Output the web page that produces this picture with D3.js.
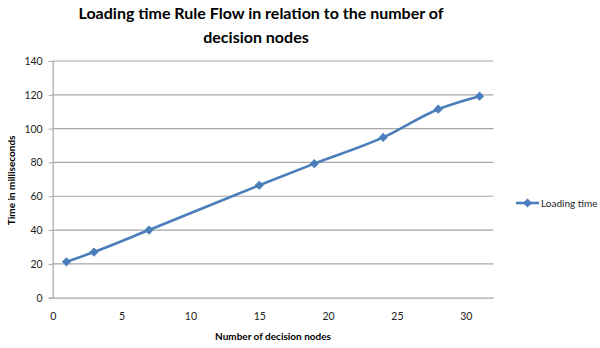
<!DOCTYPE html>
<html><head><meta charset="utf-8">
<script src="https://cdn.jsdelivr.net/npm/d3@7"></script>
<style>body{margin:0;background:#fff}svg{display:block}</style>
</head><body>
<svg id="c" width="600" height="348"></svg>
<script>
const titleLines = ["Loading time Rule Flow in relation to the number of", "decision nodes"];
const seriesName = "Loading time";
const xValues = [1, 3, 7, 15, 19, 24, 28, 31];
const yValues = [21.2, 27, 40, 66.5, 79.3, 94.8, 111.5, 119.2];
const xTicks = [0, 5, 10, 15, 20, 25, 30];
const yTicks = [0, 20, 40, 60, 80, 100, 120, 140];
const xTitle = "Number of decision nodes";
const yTitle = "Time in milliseconds";

const svg = d3.select("#c");
const L = 52.7, R = 493.3, T = 61, B = 297.7;
const x = d3.scaleLinear().domain([0, 32]).range([L, R]);
const y = d3.scaleLinear().domain([0, 140]).range([B, T]);
const font = "Lato, 'Open Sans', sans-serif";
const blue = "#4a7ebb";

// gridlines
svg.append("g").selectAll("line").data(yTicks.filter(d => d > 0)).join("line")
  .attr("x1", L).attr("x2", R).attr("y1", d => y(d)).attr("y2", d => y(d))
  .attr("stroke", "#a6a6a6").attr("stroke-width", 1.2);

// y axis
const ya = svg.append("g").attr("transform", `translate(${L},0)`)
  .call(d3.axisLeft(y).tickValues(yTicks).tickSize(4).tickPadding(6));
ya.select(".domain").attr("stroke", "#a6a6a6").attr("stroke-width", 1.2);
ya.selectAll(".tick line").attr("stroke", "#a6a6a6");
ya.selectAll("text").attr("font-family", font).attr("font-size", 10.5).attr("fill", "#222");

// x axis
const xa = svg.append("g").attr("transform", `translate(0,${B})`)
  .call(d3.axisBottom(x).tickValues(xTicks).tickSize(0).tickPadding(15));
xa.select(".domain").attr("stroke", "#a6a6a6").attr("stroke-width", 1.2);
xa.selectAll("text").attr("font-family", font).attr("font-size", 10.5).attr("fill", "#222");

// line
const pts = xValues.map((v, i) => [v, yValues[i]]);
svg.append("path").datum(pts)
  .attr("fill", "none").attr("stroke", blue).attr("stroke-width", 2.6)
  .attr("d", d3.line().x(d => x(d[0])).y(d => y(d[1])).curve(d3.curveMonotoneX));

const diamond = d3.symbol().type(d3.symbolSquare).size(30);
svg.append("g").selectAll("path").data(pts).join("path")
  .attr("transform", d => `translate(${x(d[0])},${y(d[1])}) rotate(45)`)
  .attr("d", diamond).attr("fill", blue).attr("stroke", blue).attr("stroke-width", 1);

// title
svg.append("text").attr("x", 261).attr("y", 18.5).attr("text-anchor", "middle")
  .attr("font-family", font).attr("font-weight", "bold").attr("font-size", 16)
  .attr("fill", "#000").text(titleLines[0]);
svg.append("text").attr("x", 256).attr("y", 43).attr("text-anchor", "middle")
  .attr("font-family", font).attr("font-weight", "bold").attr("font-size", 16)
  .attr("fill", "#000").text(titleLines[1]);

// axis titles
svg.append("text").attr("x", (L + R) / 2).attr("y", 340).attr("text-anchor", "middle")
  .attr("font-family", font).attr("font-weight", "bold").attr("font-size", 10)
  .attr("fill", "#000").text(xTitle);
svg.append("text").attr("transform", `translate(15,${(T + B) / 2 + 1}) rotate(-90)`)
  .attr("text-anchor", "middle")
  .attr("font-family", font).attr("font-weight", "bold").attr("font-size", 10)
  .attr("fill", "#000").text(yTitle);

// legend
const lg = svg.append("g").attr("transform", "translate(516,203)");
lg.append("line").attr("x1", 0).attr("x2", 23).attr("y1", 0).attr("y2", 0)
  .attr("stroke", blue).attr("stroke-width", 2.6);
lg.append("path").attr("transform", "translate(11.5,0) rotate(45)").attr("d", diamond)
  .attr("fill", blue).attr("stroke", blue).attr("stroke-width", 1);
lg.append("text").attr("x", 25).attr("y", 3.5).attr("font-family", font).attr("font-size", 10)
  .attr("fill", "#222").text(seriesName);
</script>
</body></html>
